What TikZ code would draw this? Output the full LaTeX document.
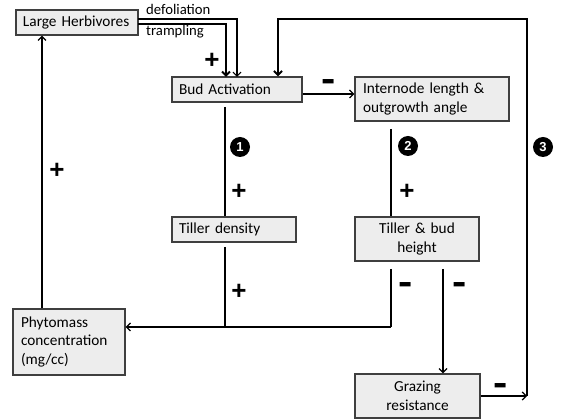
\documentclass[tikz,border=0pt]{standalone}
\usepackage{fontspec}
\setmainfont{Carlito}
\newfontfamily\signfont{Liberation Sans}
\usetikzlibrary{arrows.meta}
\definecolor{boxfill}{HTML}{EDEDED}
\definecolor{boxline}{HTML}{3F3F3F}
\tikzset{
  >={Straight Barb[length=4pt,width=8pt]},
  box/.style={draw=boxline, fill=boxfill, line width=1.3pt, rectangle, inner xsep=7pt, inner ysep=0pt,
    font=\fontsize{15.3}{18.5}\selectfont},
  lbox/.style={box, align=left},
  cbox/.style={box, align=center},
  thick line/.style={line width=2pt},
  thin line/.style={line width=1.2pt},
  lbl/.style={font=\fontsize{14.7}{17}\selectfont, inner sep=0pt},
  plussign/.style={font=\fontsize{26}{26}\selectfont\signfont\bfseries, inner sep=0pt},
  minussign/.style={font=\fontsize{22}{22}\selectfont\signfont\bfseries, inner sep=0pt, yscale=2, transform shape},
  numc/.style={circle, fill=black, text=white, font=\fontsize{13}{13}\selectfont\signfont\bfseries, minimum size=20pt, inner sep=0pt},
}
\begin{document}
\begin{tikzpicture}[x=1pt,y=-1pt]
\useasboundingbox (0,0) rectangle (563,419);
% boxes
\node[lbox, text width=108pt, minimum height=25pt] (lh) at (77,22.5) {Large Herbivores};
\node[lbox, text width=116pt, minimum height=25pt] (bud) at (237,89.5) {Bud Activation};
\node[lbox, text width=138pt, minimum height=44pt, inner xsep=8pt] (int) at (432,99) {Internode length \&\\outgrowth angle};
\node[lbox, text width=110pt, minimum height=25pt] (td) at (234,229.5) {Tiller density};
\node[cbox, text width=110pt, minimum height=44pt] (tb) at (417,239) {Tiller \& bud\\height};
\node[cbox, text width=111pt, minimum height=44pt] (gr) at (417.5,396) {Grazing\\resistance};
\node[lbox, text width=96pt, minimum height=66pt, inner xsep=8pt] (pm) at (69,342) {Phytomass\\concentration\\(mg/cc)};
% coordinates
\coordinate (lhd) at (138,19);
\coordinate (lht) at (138,24.5);
\coordinate (c3top) at (278,19);
\coordinate (c3r) at (527,19);
\coordinate (c3b) at (527,396);
\coordinate (l1a) at (225,107);
\coordinate (l1b) at (225,247);
\coordinate (l1c) at (225,327);
\coordinate (l2a) at (391,129);
\coordinate (l2b) at (391,269);
\coordinate (l2c) at (391,327);
\coordinate (gra) at (443,269);
% connectors
\draw[thin line, ->] (lhd) -| (237,77);
\draw[thick line, ->] (lht) -| (226,77);
\draw[thick line, ->] (c3b) -- (c3r) -| (c3top |- bud.north);
\draw[thin line, ->] (bud.east |- 0,94) -- (int.west |- 0,94);
\draw[thick line] (l1a) -- (td.north -| l1a);
\draw[thick line] (l1b) -- (l1c);
\draw[thick line] (l2a) -- (tb.north -| l2a);
\draw[thick line] (l2b) -- (l2c);
\draw[thin line, ->] (l2c) -- (pm.east |- l2c);
\draw[thin line, ->] (pm.north -| 42,0) -- (lh.south -| 42,0);
\draw[thin line, ->] (gra) -- (gr.north -| gra);
\draw[thin line, ->] (gr.east |- c3b) -- (c3b);
% labels
\node[lbl, anchor=west] (ldef) at (146,9) {defoliation};
\node[lbl, anchor=west] (ltra) at (146,32) {trampling};
% signs
\node[plussign] (p1) at (212,61) {+};
\node[minussign] (m1) at (329,87) {–};
\node[plussign] (p2) at (57,171) {+};
\node[plussign] (p3) at (239,192) {+};
\node[plussign] (p4) at (239,292) {+};
\node[plussign] (p5) at (407,192) {+};
\node[minussign] (m2) at (406,290) {–};
\node[minussign] (m3) at (460,290) {–};
\node[minussign] (m4) at (501,391) {–};
% numbers
\node[numc] (n1) at (240,147) {1};
\node[numc] (n2) at (408,146) {2};
\node[numc] (n3) at (543,147) {3};
\end{tikzpicture}
\end{document}
